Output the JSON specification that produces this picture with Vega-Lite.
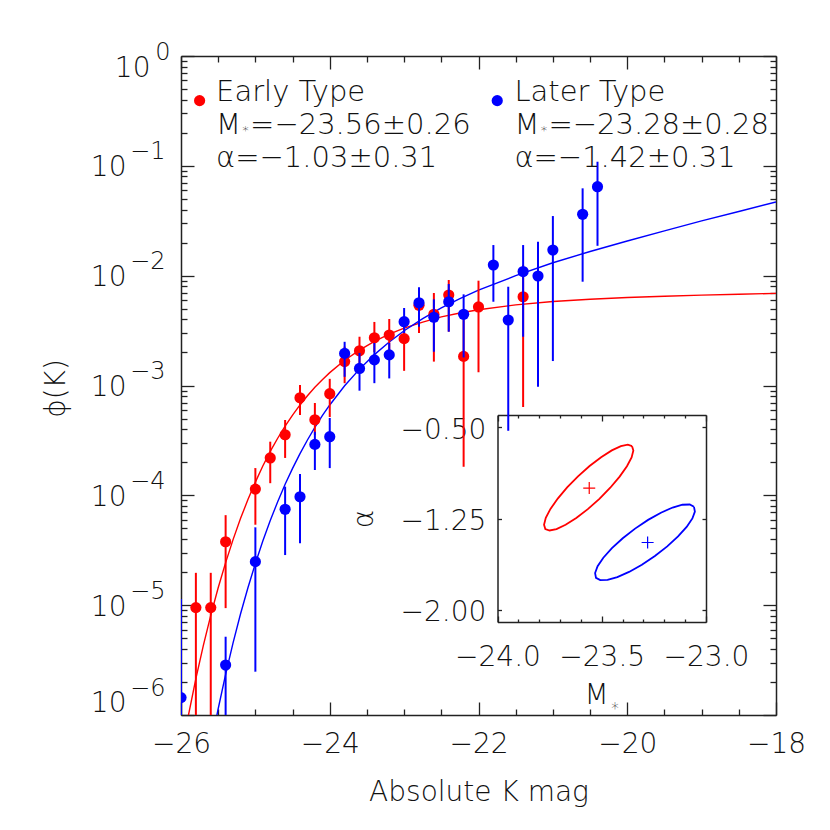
{
 "$schema": "https://vega.github.io/schema/vega-lite/v6.json",
 "width": 595,
 "height": 659,
 "autosize": "none",
 "padding": {"left": 181, "top": 56, "right": 54, "bottom": 115},
 "background": "white",
 "config": {
  "view": {"stroke": null},
  "axis": {"grid": false, "labelFont": "DejaVu Sans", "titleFont": "DejaVu Sans", "labelFontWeight": 200, "titleFontWeight": 200, "labelColor": "#111", "titleColor": "#111", "domainColor": "#222", "tickColor": "#222", "domainWidth": 1.5, "tickWidth": 1.3, "labelFontSize": 28, "titleFontSize": 28, "labelFlush": false, "labelOverlap": false, "labelBound": false}
 },
 "datasets": {
  "early": [
   {"type": "Early", "M": -25.8, "phi": 9.5e-6, "hi": 1.97e-5, "lo": 1e-7},
   {"type": "Early", "M": -25.6, "phi": 9.5e-6, "hi": 1.97e-5, "lo": 1e-7},
   {"type": "Early", "M": -25.4, "phi": 3.78e-5, "hi": 6.6e-5, "lo": 9.4e-6},
   {"type": "Early", "M": -25.0, "phi": 1.14e-4, "hi": 1.77e-4, "lo": 5.4e-5},
   {"type": "Early", "M": -24.8, "phi": 2.19e-4, "hi": 3.08e-4, "lo": 1.29e-4},
   {"type": "Early", "M": -24.6, "phi": 3.56e-4, "hi": 4.85e-4, "lo": 2.19e-4},
   {"type": "Early", "M": -24.4, "phi": 7.74e-4, "hi": 1.01e-3, "lo": 5.38e-4},
   {"type": "Early", "M": -24.2, "phi": 4.88e-4, "hi": 6.93e-4, "lo": 3.54e-4},
   {"type": "Early", "M": -24.0, "phi": 8.42e-4, "hi": 1.15e-3, "lo": 5.16e-4},
   {"type": "Early", "M": -23.8, "phi": 1.65e-3, "hi": 2.26e-3, "lo": 1.05e-3},
   {"type": "Early", "M": -23.6, "phi": 2.07e-3, "hi": 2.78e-3, "lo": 1.54e-3},
   {"type": "Early", "M": -23.4, "phi": 2.72e-3, "hi": 3.79e-3, "lo": 2.02e-3},
   {"type": "Early", "M": -23.2, "phi": 2.88e-3, "hi": 4.03e-3, "lo": 2.02e-3},
   {"type": "Early", "M": -23.0, "phi": 2.67e-3, "hi": 3.55e-3, "lo": 1.36e-3},
   {"type": "Early", "M": -22.8, "phi": 5.37e-3, "hi": 6.95e-3, "lo": 3.0e-3},
   {"type": "Early", "M": -22.6, "phi": 4.45e-3, "hi": 6.95e-3, "lo": 1.65e-3},
   {"type": "Early", "M": -22.4, "phi": 6.67e-3, "hi": 9.13e-3, "lo": 3.09e-3},
   {"type": "Early", "M": -22.2, "phi": 1.84e-3, "hi": 4.7e-3, "lo": 1.82e-4},
   {"type": "Early", "M": -22.0, "phi": 5.19e-3, "hi": 9.0e-3, "lo": 1.32e-3},
   {"type": "Early", "M": -21.4, "phi": 6.43e-3, "hi": 1.25e-2, "lo": 6.37e-4}
  ],
  "later": [
   {"type": "Later", "M": -26.0, "phi": 1.44e-6, "hi": 1.14e-5, "lo": 1e-7},
   {"type": "Later", "M": -25.4, "phi": 2.85e-6, "hi": 5.16e-6, "lo": 1e-7},
   {"type": "Later", "M": -25.0, "phi": 2.49e-5, "hi": 5.11e-5, "lo": 2.48e-6},
   {"type": "Later", "M": -24.6, "phi": 7.46e-5, "hi": 1.2e-4, "lo": 2.86e-5},
   {"type": "Later", "M": -24.4, "phi": 9.71e-5, "hi": 1.56e-4, "lo": 3.66e-5},
   {"type": "Later", "M": -24.2, "phi": 2.91e-4, "hi": 3.79e-4, "lo": 1.7e-4},
   {"type": "Later", "M": -24.0, "phi": 3.42e-4, "hi": 5.06e-4, "lo": 1.77e-4},
   {"type": "Later", "M": -23.8, "phi": 1.96e-3, "hi": 2.5e-3, "lo": 1.2e-3},
   {"type": "Later", "M": -23.6, "phi": 1.43e-3, "hi": 1.98e-3, "lo": 8.97e-4},
   {"type": "Later", "M": -23.4, "phi": 1.71e-3, "hi": 2.44e-3, "lo": 1.05e-3},
   {"type": "Later", "M": -23.2, "phi": 1.9e-3, "hi": 2.44e-3, "lo": 1.16e-3},
   {"type": "Later", "M": -23.0, "phi": 3.81e-3, "hi": 5.08e-3, "lo": 3.0e-3},
   {"type": "Later", "M": -22.8, "phi": 5.67e-3, "hi": 7.83e-3, "lo": 3.43e-3},
   {"type": "Later", "M": -22.6, "phi": 4.18e-3, "hi": 6.09e-3, "lo": 2.03e-3},
   {"type": "Later", "M": -22.4, "phi": 5.79e-3, "hi": 8.39e-3, "lo": 3.09e-3},
   {"type": "Later", "M": -22.2, "phi": 4.45e-3, "hi": 6.76e-3, "lo": 1.8e-3},
   {"type": "Later", "M": -21.8, "phi": 1.25e-2, "hi": 1.9e-2, "lo": 5.79e-3},
   {"type": "Later", "M": -21.6, "phi": 3.95e-3, "hi": 7.93e-3, "lo": 3.87e-4},
   {"type": "Later", "M": -21.4, "phi": 1.09e-2, "hi": 1.9e-2, "lo": 2.78e-3},
   {"type": "Later", "M": -21.2, "phi": 9.93e-3, "hi": 2.04e-2, "lo": 9.75e-4},
   {"type": "Later", "M": -21.0, "phi": 1.71e-2, "hi": 3.49e-2, "lo": 1.67e-3},
   {"type": "Later", "M": -20.6, "phi": 3.62e-2, "hi": 6.24e-2, "lo": 8.81e-3},
   {"type": "Later", "M": -20.4, "phi": 6.46e-2, "hi": 0.109, "lo": 1.87e-2}
  ],
  "curveE": [
   {"type": "Early", "M": -26.0, "phi": 4.33e-7}, {"type": "Early", "M": -25.9, "phi": 9.95e-7},
   {"type": "Early", "M": -25.8, "phi": 2.14e-6}, {"type": "Early", "M": -25.7, "phi": 4.29e-6},
   {"type": "Early", "M": -25.6, "phi": 8.07e-6}, {"type": "Early", "M": -25.5, "phi": 1.44e-5},
   {"type": "Early", "M": -25.4, "phi": 2.44e-5}, {"type": "Early", "M": -25.3, "phi": 3.95e-5},
   {"type": "Early", "M": -25.2, "phi": 6.14e-5}, {"type": "Early", "M": -25.1, "phi": 9.16e-5},
   {"type": "Early", "M": -25.0, "phi": 1.32e-4}, {"type": "Early", "M": -24.9, "phi": 1.85e-4},
   {"type": "Early", "M": -24.8, "phi": 2.51e-4}, {"type": "Early", "M": -24.7, "phi": 3.31e-4},
   {"type": "Early", "M": -24.6, "phi": 4.27e-4}, {"type": "Early", "M": -24.5, "phi": 5.38e-4},
   {"type": "Early", "M": -24.4, "phi": 6.65e-4}, {"type": "Early", "M": -24.3, "phi": 8.07e-4},
   {"type": "Early", "M": -24.2, "phi": 9.64e-4}, {"type": "Early", "M": -24.1, "phi": 1.13e-3},
   {"type": "Early", "M": -24.0, "phi": 1.31e-3}, {"type": "Early", "M": -23.8, "phi": 1.7e-3},
   {"type": "Early", "M": -23.6, "phi": 2.1e-3}, {"type": "Early", "M": -23.4, "phi": 2.52e-3},
   {"type": "Early", "M": -23.2, "phi": 2.93e-3}, {"type": "Early", "M": -23.0, "phi": 3.33e-3},
   {"type": "Early", "M": -22.75, "phi": 3.78e-3}, {"type": "Early", "M": -22.5, "phi": 4.21e-3},
   {"type": "Early", "M": -22.25, "phi": 4.57e-3}, {"type": "Early", "M": -22.0, "phi": 4.9e-3},
   {"type": "Early", "M": -21.5, "phi": 5.42e-3}, {"type": "Early", "M": -21.0, "phi": 5.81e-3},
   {"type": "Early", "M": -20.5, "phi": 6.1e-3}, {"type": "Early", "M": -20.0, "phi": 6.32e-3},
   {"type": "Early", "M": -19.5, "phi": 6.5e-3}, {"type": "Early", "M": -19.0, "phi": 6.65e-3},
   {"type": "Early", "M": -18.5, "phi": 6.78e-3}, {"type": "Early", "M": -18.0, "phi": 6.9e-3}
  ],
  "curveL": [
   {"type": "Later", "M": -25.6, "phi": 5.22e-7}, {"type": "Later", "M": -25.5, "phi": 1.14e-6},
   {"type": "Later", "M": -25.4, "phi": 2.34e-6}, {"type": "Later", "M": -25.3, "phi": 4.53e-6},
   {"type": "Later", "M": -25.2, "phi": 8.3e-6}, {"type": "Later", "M": -25.1, "phi": 1.44e-5},
   {"type": "Later", "M": -25.0, "phi": 2.4e-5}, {"type": "Later", "M": -24.9, "phi": 3.84e-5},
   {"type": "Later", "M": -24.8, "phi": 5.89e-5}, {"type": "Later", "M": -24.7, "phi": 8.75e-5},
   {"type": "Later", "M": -24.6, "phi": 1.26e-4}, {"type": "Later", "M": -24.5, "phi": 1.76e-4},
   {"type": "Later", "M": -24.4, "phi": 2.4e-4}, {"type": "Later", "M": -24.3, "phi": 3.19e-4},
   {"type": "Later", "M": -24.2, "phi": 4.16e-4}, {"type": "Later", "M": -24.1, "phi": 5.31e-4},
   {"type": "Later", "M": -24.0, "phi": 6.65e-4}, {"type": "Later", "M": -23.8, "phi": 9.95e-4},
   {"type": "Later", "M": -23.6, "phi": 1.41e-3}, {"type": "Later", "M": -23.4, "phi": 1.91e-3},
   {"type": "Later", "M": -23.2, "phi": 2.49e-3}, {"type": "Later", "M": -23.0, "phi": 3.15e-3},
   {"type": "Later", "M": -22.75, "phi": 4.06e-3}, {"type": "Later", "M": -22.5, "phi": 5.08e-3},
   {"type": "Later", "M": -22.25, "phi": 6.19e-3}, {"type": "Later", "M": -22.0, "phi": 7.38e-3},
   {"type": "Later", "M": -21.5, "phi": 1.0e-2}, {"type": "Later", "M": -21.0, "phi": 1.31e-2},
   {"type": "Later", "M": -20.5, "phi": 1.66e-2}, {"type": "Later", "M": -20.0, "phi": 2.07e-2},
   {"type": "Later", "M": -19.5, "phi": 2.56e-2}, {"type": "Later", "M": -19.0, "phi": 3.15e-2},
   {"type": "Later", "M": -18.5, "phi": 3.84e-2}, {"type": "Later", "M": -18.0, "phi": 4.69e-2}
  ],
  "legendDots": [
   {"type": "Early", "M": -25.75, "phi": 0.392},
   {"type": "Later", "M": -21.748, "phi": 0.392}
  ],
  "legendText": [
   {"M": -25.528, "phi": 0.3917, "part": "lead", "label": "Early Type"},
   {"M": -25.528, "phi": 0.1949, "part": "lead", "label": "M"},
   {"M": -25.528, "phi": 0.1949, "part": "star", "label": "*"},
   {"M": -25.528, "phi": 0.1949, "part": "value", "label": "=−23.56±0.26"},
   {"M": -25.528, "phi": 0.0969, "part": "lead", "label": "α=−1.03±0.31"},
   {"M": -21.517, "phi": 0.3917, "part": "lead", "label": "Later Type"},
   {"M": -21.517, "phi": 0.1949, "part": "lead", "label": "M"},
   {"M": -21.517, "phi": 0.1949, "part": "star", "label": "*"},
   {"M": -21.517, "phi": 0.1949, "part": "value", "label": "=−23.28±0.28"},
   {"M": -21.517, "phi": 0.0969, "part": "lead", "label": "α=−1.42±0.31"}
  ],
  "ellE": [
   {"type": "Early", "i": 0, "Ms": -23.3546, "alpha": -0.6563},
   {"type": "Early", "i": 1, "Ms": -23.3484, "alpha": -0.6918},
   {"type": "Early", "i": 2, "Ms": -23.3568, "alpha": -0.748},
   {"type": "Early", "i": 3, "Ms": -23.3792, "alpha": -0.8212},
   {"type": "Early", "i": 4, "Ms": -23.4142, "alpha": -0.9061},
   {"type": "Early", "i": 5, "Ms": -23.4592, "alpha": -0.9974},
   {"type": "Early", "i": 6, "Ms": -23.5113, "alpha": -1.0885},
   {"type": "Early", "i": 7, "Ms": -23.5668, "alpha": -1.1734},
   {"type": "Early", "i": 8, "Ms": -23.6222, "alpha": -1.2461},
   {"type": "Early", "i": 9, "Ms": -23.6734, "alpha": -1.3018},
   {"type": "Early", "i": 10, "Ms": -23.717, "alpha": -1.3368},
   {"type": "Early", "i": 11, "Ms": -23.7502, "alpha": -1.3484},
   {"type": "Early", "i": 12, "Ms": -23.7706, "alpha": -1.3361},
   {"type": "Early", "i": 13, "Ms": -23.7768, "alpha": -1.3006},
   {"type": "Early", "i": 14, "Ms": -23.7684, "alpha": -1.2444},
   {"type": "Early", "i": 15, "Ms": -23.746, "alpha": -1.1712},
   {"type": "Early", "i": 16, "Ms": -23.711, "alpha": -1.0863},
   {"type": "Early", "i": 17, "Ms": -23.666, "alpha": -0.995},
   {"type": "Early", "i": 18, "Ms": -23.6139, "alpha": -0.9039},
   {"type": "Early", "i": 19, "Ms": -23.5584, "alpha": -0.819},
   {"type": "Early", "i": 20, "Ms": -23.503, "alpha": -0.7463},
   {"type": "Early", "i": 21, "Ms": -23.4518, "alpha": -0.6906},
   {"type": "Early", "i": 22, "Ms": -23.4082, "alpha": -0.6556},
   {"type": "Early", "i": 23, "Ms": -23.375, "alpha": -0.644},
   {"type": "Early", "i": 24, "Ms": -23.3546, "alpha": -0.6563}
  ],
  "ellL": [
   {"type": "Later", "i": 0, "Ms": -23.0576, "alpha": -1.1541},
   {"type": "Later", "i": 1, "Ms": -23.0533, "alpha": -1.1931},
   {"type": "Later", "i": 2, "Ms": -23.0653, "alpha": -1.2495},
   {"type": "Later", "i": 3, "Ms": -23.0928, "alpha": -1.3191},
   {"type": "Later", "i": 4, "Ms": -23.134, "alpha": -1.3973},
   {"type": "Later", "i": 5, "Ms": -23.1859, "alpha": -1.479},
   {"type": "Later", "i": 6, "Ms": -23.2451, "alpha": -1.5582},
   {"type": "Later", "i": 7, "Ms": -23.3075, "alpha": -1.6298},
   {"type": "Later", "i": 8, "Ms": -23.369, "alpha": -1.6889},
   {"type": "Later", "i": 9, "Ms": -23.4252, "alpha": -1.7313},
   {"type": "Later", "i": 10, "Ms": -23.4723, "alpha": -1.7543},
   {"type": "Later", "i": 11, "Ms": -23.5073, "alpha": -1.7563},
   {"type": "Later", "i": 12, "Ms": -23.5276, "alpha": -1.7371},
   {"type": "Later", "i": 13, "Ms": -23.5319, "alpha": -1.6981},
   {"type": "Later", "i": 14, "Ms": -23.5199, "alpha": -1.6417},
   {"type": "Later", "i": 15, "Ms": -23.4924, "alpha": -1.5721},
   {"type": "Later", "i": 16, "Ms": -23.4512, "alpha": -1.4939},
   {"type": "Later", "i": 17, "Ms": -23.3993, "alpha": -1.4122},
   {"type": "Later", "i": 18, "Ms": -23.3401, "alpha": -1.333},
   {"type": "Later", "i": 19, "Ms": -23.2777, "alpha": -1.2614},
   {"type": "Later", "i": 20, "Ms": -23.2162, "alpha": -1.2023},
   {"type": "Later", "i": 21, "Ms": -23.16, "alpha": -1.1599},
   {"type": "Later", "i": 22, "Ms": -23.1129, "alpha": -1.1369},
   {"type": "Later", "i": 23, "Ms": -23.0779, "alpha": -1.1349},
   {"type": "Later", "i": 24, "Ms": -23.0576, "alpha": -1.1541}
  ],
  "cross": [
   {"type": "Early", "Ms": -23.56, "alpha": -1.0},
   {"type": "Later", "Ms": -23.28, "alpha": -1.447}
  ]
 },
 "layer": [
  {
   "layer": [
    {
     "data": {"name": "curveE"},
     "mark": {"type": "line", "strokeWidth": 1.4, "clip": true},
     "encoding": {
      "x": {"field": "M", "type": "quantitative", "scale": {"domain": [-26, -18], "nice": false, "zero": false},
       "axis": {"orient": "bottom", "values": [-26, -25.5, -25, -24.5, -24, -23.5, -23, -22.5, -22, -21.5, -21, -20.5, -20, -19.5, -19, -18.5, -18], "labels": false, "domain": true, "ticks": true, "tickSize": {"condition": {"test": "abs(datum.value % 2) < 0.01", "value": -13}, "value": -6}, "title": null}},
      "y": {"field": "phi", "type": "quantitative", "scale": {"type": "log", "domain": [0.000001, 1], "nice": false},
       "axis": {"orient": "left", "values": [0.000001, 0.000002, 0.000003, 0.000004, 0.000005, 0.000006, 0.000007, 0.000008, 0.000009, 0.00001, 0.00002, 0.00003, 0.00004, 0.00005, 0.00006, 0.00007, 0.00008, 0.00009, 0.0001, 0.0002, 0.0003, 0.0004, 0.0005, 0.0006, 0.0007, 0.0008, 0.0009, 0.001, 0.002, 0.003, 0.004, 0.005, 0.006, 0.007, 0.008, 0.009, 0.01, 0.02, 0.03, 0.04, 0.05, 0.06, 0.07, 0.08, 0.09, 0.1, 0.2, 0.3, 0.4, 0.5, 0.6, 0.7, 0.8, 0.9, 1], "labels": false, "domain": true, "ticks": true, "tickSize": {"condition": {"test": "abs(log(datum.value)/LN10 - round(log(datum.value)/LN10)) < 0.01", "value": -13}, "value": -6}, "title": null}},
      "color": {"field": "type", "type": "nominal", "scale": {"domain": ["Early", "Later"], "range": ["#ff0000", "#0000ff"]}, "legend": null}
     }
    },
    {
     "data": {"name": "curveL"},
     "mark": {"type": "line", "strokeWidth": 1.4, "clip": true},
     "encoding": {
      "x": {"field": "M", "type": "quantitative", "scale": {"domain": [-26, -18], "nice": false, "zero": false},
       "axis": {"orient": "bottom", "values": [-26, -24, -22, -20, -18], "ticks": false, "domain": false, "labelPadding": 37, "labelBaseline": "alphabetic", "title": "Absolute K mag", "titleY": 85, "titleBaseline": "alphabetic"}},
      "y": {"field": "phi", "type": "quantitative", "scale": {"type": "log", "domain": [0.000001, 1], "nice": false},
       "axis": {"orient": "left", "values": [0.000001, 0.00001, 0.0001, 0.001, 0.01, 0.1, 1], "ticks": false, "domain": false, "labelExpr": "'10'", "labelAlign": "right", "labelBaseline": "middle", "labelPadding": {"condition": {"test": "datum.value > 0.5", "value": 31}, "value": 55}, "labelOffset": {"condition": [{"test": "datum.value > 0.5", "value": 12}, {"test": "datum.value < 0.000002", "value": -12}], "value": 2}, "title": "ϕ(K)", "titleAngle": -90, "titleX": -125, "titleY": 332, "titleAlign": "center", "titleBaseline": "middle"}},
      "color": {"field": "type", "type": "nominal", "scale": {"domain": ["Early", "Later"], "range": ["#ff0000", "#0000ff"]}, "legend": null}
     }
    },
    {
     "data": {"name": "early"},
     "mark": {"type": "rule", "strokeWidth": 2, "clip": true},
     "encoding": {
      "x": {"field": "M", "type": "quantitative", "scale": {"domain": [-26, -18], "nice": false, "zero": false},
       "axis": {"orient": "top", "values": [-26, -25.5, -25, -24.5, -24, -23.5, -23, -22.5, -22, -21.5, -21, -20.5, -20, -19.5, -19, -18.5, -18], "labels": false, "domain": true, "ticks": true, "tickSize": {"condition": {"test": "abs(datum.value % 2) < 0.01", "value": -13}, "value": -6}, "title": null}},
      "y": {"field": "hi", "type": "quantitative", "scale": {"type": "log", "domain": [0.000001, 1], "nice": false},
       "axis": {"orient": "right", "values": [0.000001, 0.000002, 0.000003, 0.000004, 0.000005, 0.000006, 0.000007, 0.000008, 0.000009, 0.00001, 0.00002, 0.00003, 0.00004, 0.00005, 0.00006, 0.00007, 0.00008, 0.00009, 0.0001, 0.0002, 0.0003, 0.0004, 0.0005, 0.0006, 0.0007, 0.0008, 0.0009, 0.001, 0.002, 0.003, 0.004, 0.005, 0.006, 0.007, 0.008, 0.009, 0.01, 0.02, 0.03, 0.04, 0.05, 0.06, 0.07, 0.08, 0.09, 0.1, 0.2, 0.3, 0.4, 0.5, 0.6, 0.7, 0.8, 0.9, 1], "labels": false, "domain": true, "ticks": true, "tickSize": {"condition": {"test": "abs(log(datum.value)/LN10 - round(log(datum.value)/LN10)) < 0.01", "value": -13}, "value": -6}, "title": null}},
      "y2": {"field": "lo"},
      "color": {"field": "type", "type": "nominal", "scale": {"domain": ["Early", "Later"], "range": ["#ff0000", "#0000ff"]}, "legend": null}
     }
    },
    {
     "data": {"name": "early"},
     "mark": {"type": "point", "filled": true, "size": 125, "opacity": 1, "clip": true},
     "encoding": {
      "x": {"field": "M", "type": "quantitative", "scale": {"domain": [-26, -18], "nice": false, "zero": false}, "axis": null},
      "y": {"field": "phi", "type": "quantitative", "scale": {"type": "log", "domain": [0.000001, 1], "nice": false},
       "axis": {"orient": "left", "values": [0.000001, 0.00001, 0.0001, 0.001, 0.01, 0.1, 1], "ticks": false, "domain": false, "labelExpr": "datum.value > 0.5 ? '0' : '−' + round(-log(datum.value)/LN10)", "labelFontSize": 24, "labelAlign": "right", "labelBaseline": "middle", "labelPadding": {"condition": {"test": "datum.value > 0.5", "value": 11}, "value": 16}, "labelOffset": {"condition": [{"test": "datum.value > 0.5", "value": -4}, {"test": "datum.value < 0.000002", "value": -27}], "value": -14}, "title": null}},
      "color": {"field": "type", "type": "nominal", "scale": {"domain": ["Early", "Later"], "range": ["#ff0000", "#0000ff"]}, "legend": null}
     }
    },
    {
     "data": {"name": "later"},
     "mark": {"type": "rule", "strokeWidth": 2, "clip": true},
     "encoding": {
      "x": {"field": "M", "type": "quantitative", "scale": {"domain": [-26, -18], "nice": false, "zero": false}, "axis": null},
      "y": {"field": "hi", "type": "quantitative", "scale": {"type": "log", "domain": [0.000001, 1], "nice": false}, "axis": null},
      "y2": {"field": "lo"},
      "color": {"field": "type", "type": "nominal", "scale": {"domain": ["Early", "Later"], "range": ["#ff0000", "#0000ff"]}, "legend": null}
     }
    },
    {
     "data": {"name": "later"},
     "mark": {"type": "point", "filled": true, "size": 125, "opacity": 1, "clip": true},
     "encoding": {
      "x": {"field": "M", "type": "quantitative", "scale": {"domain": [-26, -18], "nice": false, "zero": false}, "axis": null},
      "y": {"field": "phi", "type": "quantitative", "scale": {"type": "log", "domain": [0.000001, 1], "nice": false}, "axis": null},
      "color": {"field": "type", "type": "nominal", "scale": {"domain": ["Early", "Later"], "range": ["#ff0000", "#0000ff"]}, "legend": null}
     }
    },
    {
     "data": {"name": "legendDots"},
     "mark": {"type": "point", "filled": true, "size": 125, "opacity": 1},
     "encoding": {
      "x": {"field": "M", "type": "quantitative", "scale": {"domain": [-26, -18], "nice": false, "zero": false}, "axis": null},
      "y": {"field": "phi", "type": "quantitative", "scale": {"type": "log", "domain": [0.000001, 1], "nice": false}, "axis": null},
      "color": {"field": "type", "type": "nominal", "scale": {"domain": ["Early", "Later"], "range": ["#ff0000", "#0000ff"]}, "legend": null}
     }
    },
    {
     "data": {"name": "legendText"},
     "transform": [{"filter": "datum.part == 'lead'"}],
     "mark": {"type": "text", "align": "left", "baseline": "alphabetic", "font": "DejaVu Sans", "fontWeight": 200, "fontSize": 29, "color": "#111"},
     "encoding": {
      "x": {"field": "M", "type": "quantitative", "scale": {"domain": [-26, -18], "nice": false, "zero": false}, "axis": null},
      "y": {"field": "phi", "type": "quantitative", "scale": {"type": "log", "domain": [0.000001, 1], "nice": false}, "axis": null},
      "text": {"field": "label", "type": "nominal"}
     }
    },
    {
     "data": {"name": "legendText"},
     "transform": [{"filter": "datum.part == 'value'"}],
     "mark": {"type": "text", "align": "left", "baseline": "alphabetic", "font": "DejaVu Sans", "fontWeight": 200, "fontSize": 29, "color": "#111", "dx": 34},
     "encoding": {
      "x": {"field": "M", "type": "quantitative", "scale": {"domain": [-26, -18], "nice": false, "zero": false}, "axis": null},
      "y": {"field": "phi", "type": "quantitative", "scale": {"type": "log", "domain": [0.000001, 1], "nice": false}, "axis": null},
      "text": {"field": "label", "type": "nominal"}
     }
    },
    {
     "data": {"name": "legendText"},
     "transform": [{"filter": "datum.part == 'star'"}],
     "mark": {"type": "text", "align": "center", "baseline": "alphabetic", "font": "DejaVu Sans", "fontWeight": 200, "fontSize": 13, "color": "#111", "dx": 29.5, "dy": 1},
     "encoding": {
      "x": {"field": "M", "type": "quantitative", "scale": {"domain": [-26, -18], "nice": false, "zero": false}, "axis": null},
      "y": {"field": "phi", "type": "quantitative", "scale": {"type": "log", "domain": [0.000001, 1], "nice": false}, "axis": null},
      "text": {"field": "label", "type": "nominal"}
     }
    }
   ],
   "resolve": {"axis": {"x": "independent", "y": "independent"}}
  },
  {
   "layer": [
    {
     "data": {"name": "ellE"},
     "mark": {"type": "line", "strokeWidth": 1.8},
     "encoding": {
      "x": {"field": "Ms", "type": "quantitative", "scale": {"domain": [-24, -23], "range": [316.5, 525], "nice": false, "zero": false},
       "axis": {"orient": "bottom", "offset": -93, "values": [-24, -23.9, -23.8, -23.7, -23.6, -23.5, -23.4, -23.3, -23.2, -23.1, -23], "labels": false, "domain": true, "ticks": true, "tickSize": {"condition": {"test": "abs(datum.value*2 - round(datum.value*2)) < 0.01", "value": -6}, "value": -3}, "title": "*", "titleFontSize": 15, "titleX": 433.5, "titleY": 91, "titleAlign": "center", "titleBaseline": "alphabetic"}},
      "y": {"field": "alpha", "type": "quantitative", "scale": {"domain": [-2.1, -0.4], "range": [566, 359], "nice": false, "zero": false},
       "axis": {"orient": "left", "offset": -316.5, "values": [-2, -1.25, -0.5], "labels": false, "domain": true, "ticks": true, "tickSize": -4, "title": null}},
      "order": {"field": "i", "type": "quantitative"},
      "color": {"field": "type", "type": "nominal", "scale": {"domain": ["Early", "Later"], "range": ["#ff0000", "#0000ff"]}, "legend": null}
     }
    },
    {
     "data": {"name": "ellL"},
     "mark": {"type": "line", "strokeWidth": 1.8},
     "encoding": {
      "x": {"field": "Ms", "type": "quantitative", "scale": {"domain": [-24, -23], "range": [316.5, 525], "nice": false, "zero": false},
       "axis": {"orient": "bottom", "offset": -93, "values": [-24, -23.5, -23], "format": ".1f", "ticks": false, "domain": false, "labelPadding": 43, "labelBaseline": "alphabetic", "title": "M", "titleX": 415, "titleY": 81, "titleAlign": "center", "titleBaseline": "alphabetic"}},
      "y": {"field": "alpha", "type": "quantitative", "scale": {"domain": [-2.1, -0.4], "range": [566, 359], "nice": false, "zero": false},
       "axis": {"orient": "left", "offset": -316.5, "values": [-2, -1.25, -0.5], "format": ".2f", "ticks": false, "domain": false, "labelPadding": 11.6, "labelAlign": "right", "labelBaseline": "middle", "labelOffset": 3, "title": "α", "titleAngle": -90, "titleX": -133.5, "titleAlign": "center", "titleBaseline": "middle"}},
      "order": {"field": "i", "type": "quantitative"},
      "color": {"field": "type", "type": "nominal", "scale": {"domain": ["Early", "Later"], "range": ["#ff0000", "#0000ff"]}, "legend": null}
     }
    },
    {
     "data": {"name": "cross"},
     "mark": {"type": "point", "shape": "M-1,0L1,0M0,-1L0,1", "filled": false, "size": 144, "strokeWidth": 1.2, "opacity": 1},
     "encoding": {
      "x": {"field": "Ms", "type": "quantitative", "scale": {"domain": [-24, -23], "range": [316.5, 525], "nice": false, "zero": false},
       "axis": {"orient": "top", "offset": -359, "values": [-24, -23.9, -23.8, -23.7, -23.6, -23.5, -23.4, -23.3, -23.2, -23.1, -23], "labels": false, "domain": true, "ticks": true, "tickSize": {"condition": {"test": "abs(datum.value*2 - round(datum.value*2)) < 0.01", "value": -6}, "value": -3}, "title": null}},
      "y": {"field": "alpha", "type": "quantitative", "scale": {"domain": [-2.1, -0.4], "range": [566, 359], "nice": false, "zero": false},
       "axis": {"orient": "right", "offset": -70, "values": [-2, -1.25, -0.5], "labels": false, "domain": true, "ticks": true, "tickSize": -4, "title": null}},
      "color": {"field": "type", "type": "nominal", "scale": {"domain": ["Early", "Later"], "range": ["#ff0000", "#0000ff"]}, "legend": null}
     }
    }
   ],
   "resolve": {"axis": {"x": "independent", "y": "independent"}}
  }
 ],
 "resolve": {"scale": {"x": "independent", "y": "independent"}, "axis": {"x": "independent", "y": "independent"}}
}
